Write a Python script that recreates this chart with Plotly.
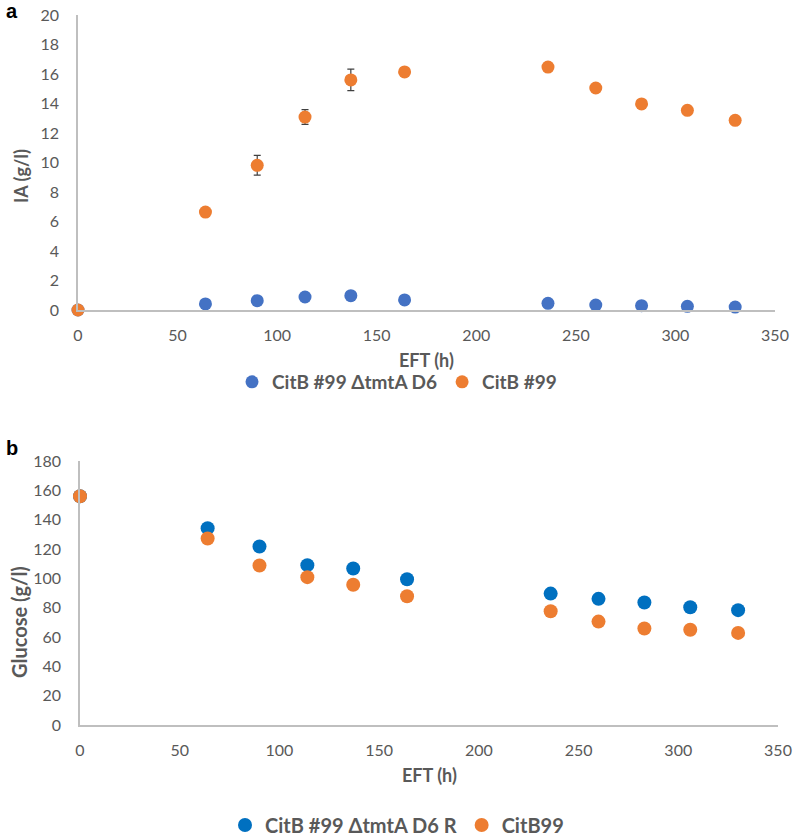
import plotly.graph_objects as go

# ---------------- data ----------------
eft_h = [0, 64, 90, 114, 137, 164, 236, 260, 283, 306, 330]

ia_mutant = [0, 0.41, 0.63, 0.88, 0.97, 0.68, 0.45, 0.34, 0.29, 0.25, 0.20]
ia_citb99 = [0, 6.64, 9.81, 13.08, 15.6, 16.14, 16.47, 15.05, 13.97, 13.54, 12.86]
ia_citb99_err = [0, 0.1, 0.67, 0.5, 0.73, 0.1, 0.1, 0.1, 0.1, 0.1, 0.1]

glc_mutant = [156, 134.2, 121.7, 109.0, 106.7, 99.4, 89.6, 86.0, 83.5, 80.3, 78.3]
glc_citb99 = [156, 127.2, 108.8, 100.8, 95.6, 87.8, 77.6, 70.5, 65.8, 64.9, 62.8]

x_ticks = [0, 50, 100, 150, 200, 250, 300, 350]
ia_ticks = [0, 2, 4, 6, 8, 10, 12, 14, 16, 18, 20]
glc_ticks = [0, 20, 40, 60, 80, 100, 120, 140, 160, 180]

names_a = ["CitB #99 ΔtmtA D6", "CitB #99"]
names_b = ["CitB #99 ΔtmtA D6 R", "CitB99"]

# ---------------- styling ----------------
W, H = 794, 837
FONT = "Lato, 'Open Sans', sans-serif"
GRAY = "#595959"
AXIS = "#BFBFBF"
ORANGE = "#ED7D31"
BLUE_A = "#4472C4"
BLUE_B = "#0070C0"


def px_x(p):
    return p / W


def px_y(p):
    return 1 - p / H


fig = go.Figure()

fig.add_trace(go.Scatter(
    x=eft_h, y=ia_mutant, mode="markers", name=names_a[0],
    marker=dict(color=BLUE_A, size=13), xaxis="x", yaxis="y",
    cliponaxis=False, legend="legend"))
fig.add_trace(go.Scatter(
    x=eft_h, y=ia_citb99, mode="markers", name=names_a[1],
    marker=dict(color=ORANGE, size=13), xaxis="x", yaxis="y",
    error_y=dict(type="data", array=ia_citb99_err, color="#404040",
                 thickness=1.2, width=3.5),
    cliponaxis=False, legend="legend"))

fig.add_trace(go.Scatter(
    x=eft_h, y=glc_mutant, mode="markers", name=names_b[0],
    marker=dict(color=BLUE_B, size=14), xaxis="x2", yaxis="y2",
    cliponaxis=False, legend="legend2"))
fig.add_trace(go.Scatter(
    x=eft_h, y=glc_citb99, mode="markers", name=names_b[1],
    marker=dict(color=ORANGE, size=14), xaxis="x2", yaxis="y2",
    cliponaxis=False, legend="legend2"))

common_x = dict(range=[0, 350], tickvals=x_ticks, showgrid=False, zeroline=False,
                showline=True, linecolor=AXIS, linewidth=1.5, ticks="",
                tickfont=dict(family=FONT, size=16, color=GRAY),
                ticklabelstandoff=10, fixedrange=True, automargin=False)
common_y = dict(showgrid=False, zeroline=False, showline=True, linecolor=AXIS,
                linewidth=1.5, ticks="",
                tickfont=dict(family=FONT, size=16, color=GRAY),
                ticklabelstandoff=14, fixedrange=True, automargin=False)

fig.update_layout(
    width=W, height=H,
    margin=dict(l=0, r=0, t=0, b=0, pad=0, autoexpand=False),
    paper_bgcolor="white", plot_bgcolor="white",
    font=dict(family=FONT, color=GRAY),
    xaxis=dict(domain=[px_x(78), px_x(775)], anchor="y", **common_x),
    yaxis=dict(domain=[px_y(310), px_y(15)], anchor="x", range=[0, 20],
               tickvals=ia_ticks, **common_y),
    xaxis2=dict(domain=[px_x(80), px_x(778)], anchor="y2", **common_x),
    yaxis2=dict(domain=[px_y(725), px_y(461)], anchor="x2", range=[0, 180],
                tickvals=glc_ticks, **common_y),
    legend=dict(orientation="h", x=0.5, xanchor="center", y=px_y(382),
                yanchor="middle", font=dict(family=FONT, size=19, color=GRAY,
                                            weight="bold"),
                bgcolor="rgba(0,0,0,0)"),
    legend2=dict(orientation="h", x=0.5, xanchor="center", y=px_y(825),
                 yanchor="middle", font=dict(family=FONT, size=20, color=GRAY,
                                             weight="bold"),
                 bgcolor="rgba(0,0,0,0)"),
    showlegend=True,
)

annotations = [
    dict(text="<b>a</b>", x=px_x(12), y=px_y(11), font=dict(family="Liberation Sans, Arial", size=20, color="black")),
    dict(text="<b>b</b>", x=px_x(12), y=px_y(448), font=dict(family="Liberation Sans, Arial", size=20, color="black")),
    dict(text="<b>IA (g/l)</b>", x=px_x(21), y=px_y(176), textangle=-90,
         font=dict(family=FONT, size=18, color=GRAY)),
    dict(text="<b>Glucose (g/l)</b>", x=px_x(19), y=px_y(622), textangle=-90,
         font=dict(family=FONT, size=20, color=GRAY)),
    dict(text="<b>EFT (h)</b>", x=px_x(427), y=px_y(360),
         font=dict(family=FONT, size=18, color=GRAY)),
    dict(text="<b>EFT (h)</b>", x=px_x(429), y=px_y(775),
         font=dict(family=FONT, size=18, color=GRAY)),
]
for a in annotations:
    a.update(xref="paper", yref="paper", xanchor="center", yanchor="middle",
             showarrow=False)
fig.update_layout(annotations=annotations)

fig.write_html("out.html",
               config={"displayModeBar": False, "staticPlot": False},
               post_script="document.body.style.margin='0px';"
                           "document.body.style.overflow='hidden';")
